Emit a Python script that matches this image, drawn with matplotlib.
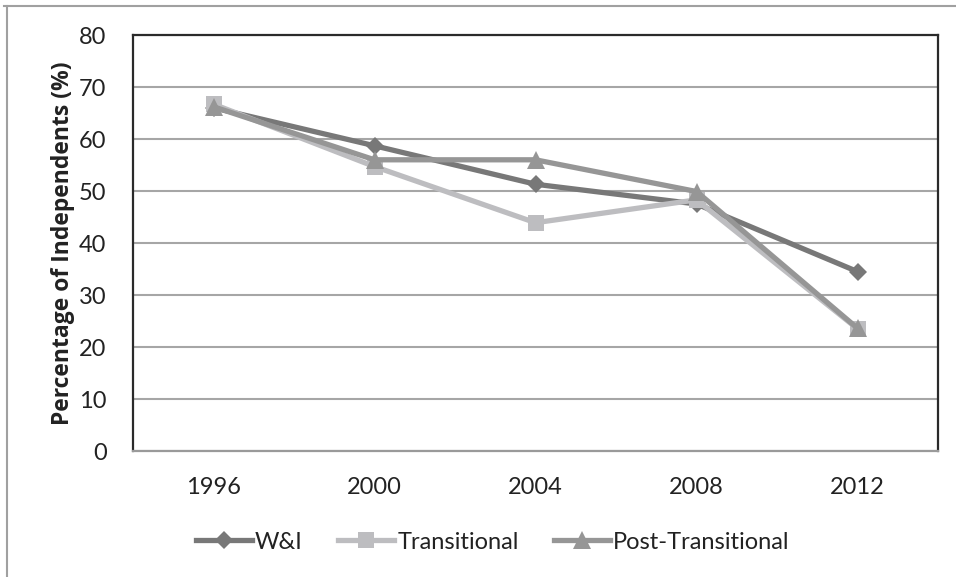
import matplotlib
matplotlib.use("Agg")
import matplotlib.pyplot as plt
from matplotlib.lines import Line2D

years = ["1996", "2000", "2004", "2008", "2012"]
wi = [66.0, 58.7, 51.3, 47.5, 34.5]
transitional = [66.7, 54.7, 43.9, 48.3, 23.5]
post_transitional = [66.2, 56.0, 56.0, 49.9, 23.6]
y_ticks = [0, 10, 20, 30, 40, 50, 60, 70, 80]

plt.rcParams['font.family'] = ['Lato', 'DejaVu Sans']

fig = plt.figure(figsize=(9.56, 5.77), dpi=100)
ax = fig.add_axes([133 / 956, 1 - 451 / 577, (938 - 133) / 956, (451 - 35) / 577])

x = list(range(len(years)))
series = [
    ("W&I", wi, "#787878", "D", 9.5),
    ("Transitional", transitional, "#bdbdc0", "s", 12),
    ("Post-Transitional", post_transitional, "#969696", "^", 13),
]
for label, vals, color, marker, ms in series:
    ax.plot(x, vals, color=color, lw=3.8, marker=marker, markersize=ms,
            markeredgewidth=0, label=label, solid_joinstyle='round')

ax.set_xlim(-0.5, len(years) - 0.5)
ax.set_ylim(0, 80)
ax.set_yticks(y_ticks)
ax.set_xticks(x)
ax.set_xticklabels(years)
ax.yaxis.grid(True, color="#a6a6a6", lw=1.5)
ax.set_axisbelow(True)
ax.tick_params(axis='both', length=0, labelsize=17, colors="#222222")
ax.tick_params(axis='x', pad=19)
ax.tick_params(axis='y', pad=19)
for side in ['top', 'left', 'right']:
    ax.spines[side].set_color("#2a2a2a")
    ax.spines[side].set_linewidth(1.6)
ax.spines['bottom'].set_color("#9a9a9a")
ax.spines['bottom'].set_linewidth(1.6)

ax.set_ylabel("Percentage of Independents (%)", fontsize=16.5, fontweight='bold',
              family=['Open Sans', 'DejaVu Sans'], color="#222222", labelpad=3)

leg = ax.legend(loc='upper center', bbox_to_anchor=(0.447, -0.143), ncol=3,
                frameon=False, fontsize=17, handlelength=2.35, handletextpad=0.15,
                columnspacing=1.5, labelcolor="#222222")

# outer chart border (top and left edges)
fig.add_artist(Line2D([4 / 956, 1.0], [1 - 6 / 577, 1 - 6 / 577],
                      transform=fig.transFigure, color="#a0a0a0", lw=1.5))
fig.add_artist(Line2D([7 / 956, 7 / 956], [0, 1 - 6 / 577],
                      transform=fig.transFigure, color="#a0a0a0", lw=1.5))

fig.savefig("out.png", dpi=100)
